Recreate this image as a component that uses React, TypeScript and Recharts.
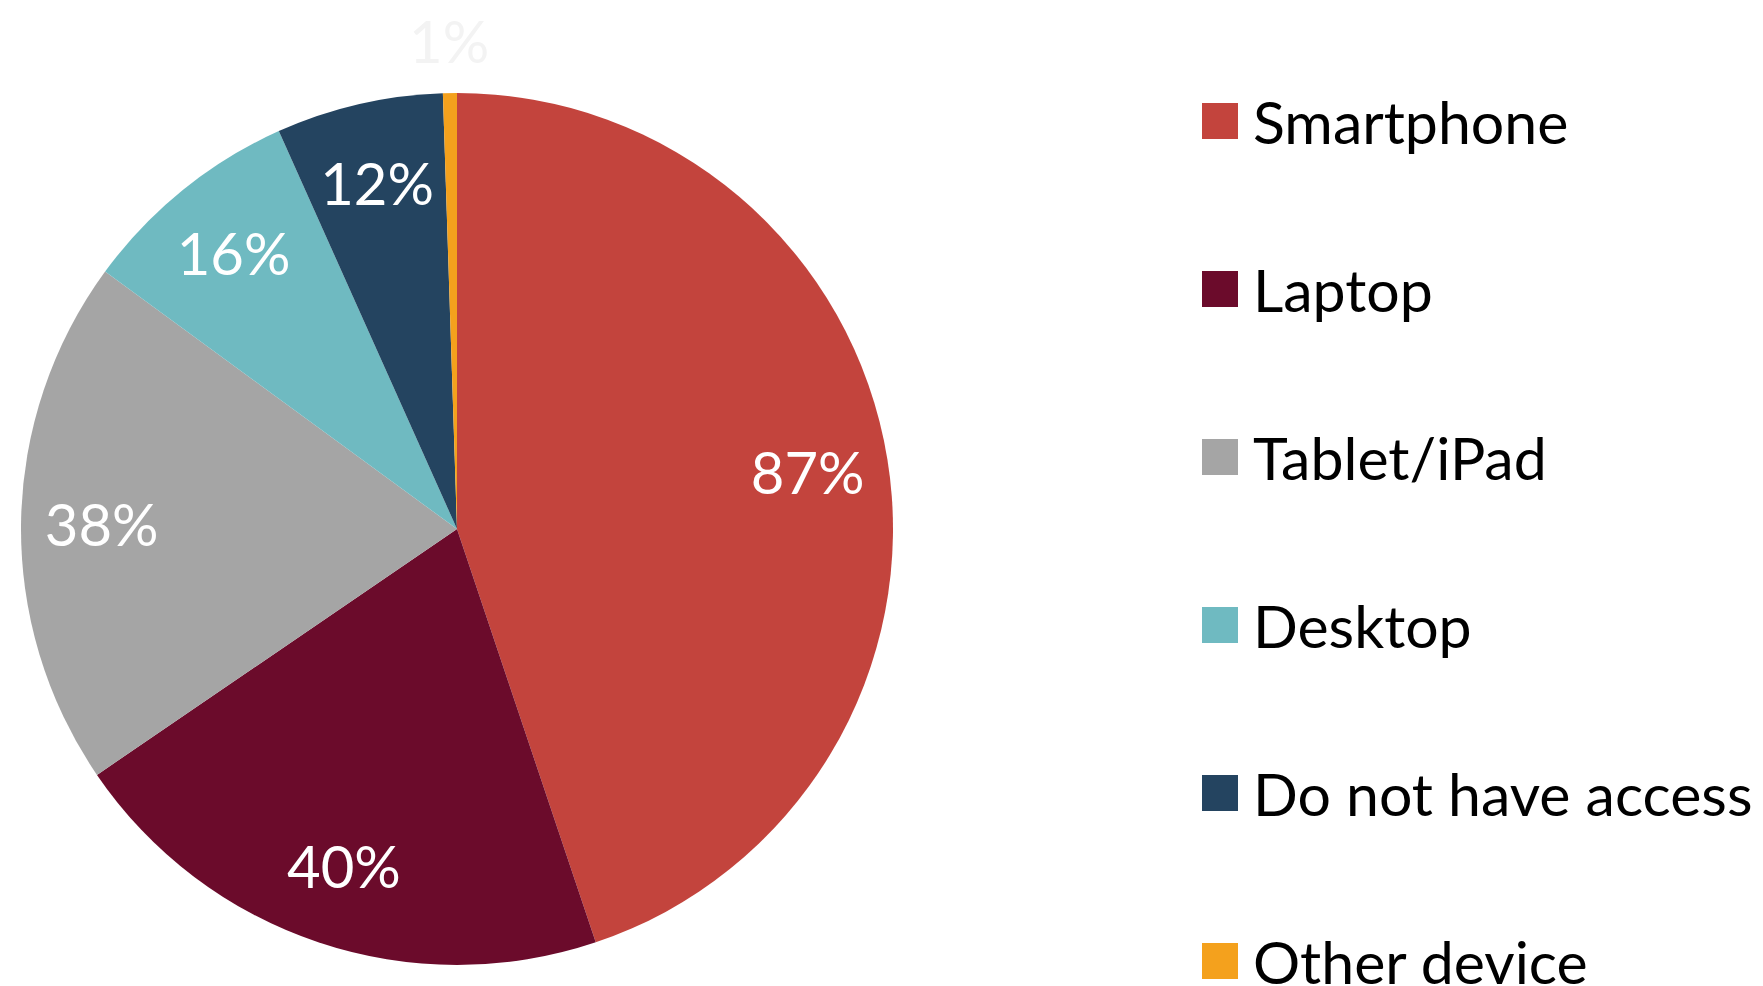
import React from "react";
import { Cell, Legend, Pie, PieChart } from "recharts";

const categories = [
  "Smartphone",
  "Laptop",
  "Tablet/iPad",
  "Desktop",
  "Do not have access",
  "Other device",
];
const shares = [87, 40, 38, 16, 12, 1];
const colors = ["#c3443d", "#6b0b2b", "#a5a5a5", "#6fbac1", "#244460", "#f4a11d"];

const data = categories.map((name, i) => ({ name, value: shares[i] }));

const FONT = "Lato, 'Open Sans', sans-serif";
const RAD = Math.PI / 180;

const renderLabel = (props: any) => {
  const { cx, cy, midAngle, outerRadius, percent, index } = props;
  // tiny slices get their label pushed outside the pie
  const r = percent < 0.02 ? outerRadius * 1.12 : outerRadius * 0.815;
  const x = cx + r * Math.cos(-midAngle * RAD);
  const y = cy + r * Math.sin(-midAngle * RAD);
  return (
    <text
      x={x}
      y={y}
      fill={percent < 0.02 ? "#f3f3f3" : "#ffffff"}
      textAnchor="middle"
      dominantBaseline="central"
      fontFamily={FONT}
      fontSize={58}
    >
      {`${shares[index]}%`}
    </text>
  );
};

const renderLegend = () => (
  <div style={{ fontFamily: FONT }}>
    {categories.map((name, i) => (
      <div
        key={name}
        style={{ height: 168, display: "flex", alignItems: "center" }}
      >
        <span
          style={{
            width: 36,
            height: 36,
            background: colors[i],
            display: "inline-block",
            marginRight: 15,
            flexShrink: 0,
          }}
        />
        <span style={{ fontSize: 59, color: "#000", whiteSpace: "nowrap" }}>
          {name}
        </span>
      </div>
    ))}
  </div>
);

export default function App() {
  return (
    <div style={{ width: 1763, height: 986, background: "#fff" }}>
      <style>{`body{margin:0}`}</style>
      <PieChart width={1763} height={986}>
        <Pie
          data={data}
          dataKey="value"
          nameKey="name"
          cx={452}
          cy={524}
          outerRadius={436}
          startAngle={90}
          endAngle={-270}
          stroke="none"
          label={renderLabel}
          labelLine={false}
          isAnimationActive={false}
        >
          {data.map((d, i) => (
            <Cell key={d.name} fill={colors[i]} />
          ))}
        </Pie>
        <Legend
          layout="vertical"
          verticalAlign="top"
          align="right"
          content={renderLegend}
          wrapperStyle={{ left: 1202, top: 37, width: 561 }}
        />
      </PieChart>
    </div>
  );
}
